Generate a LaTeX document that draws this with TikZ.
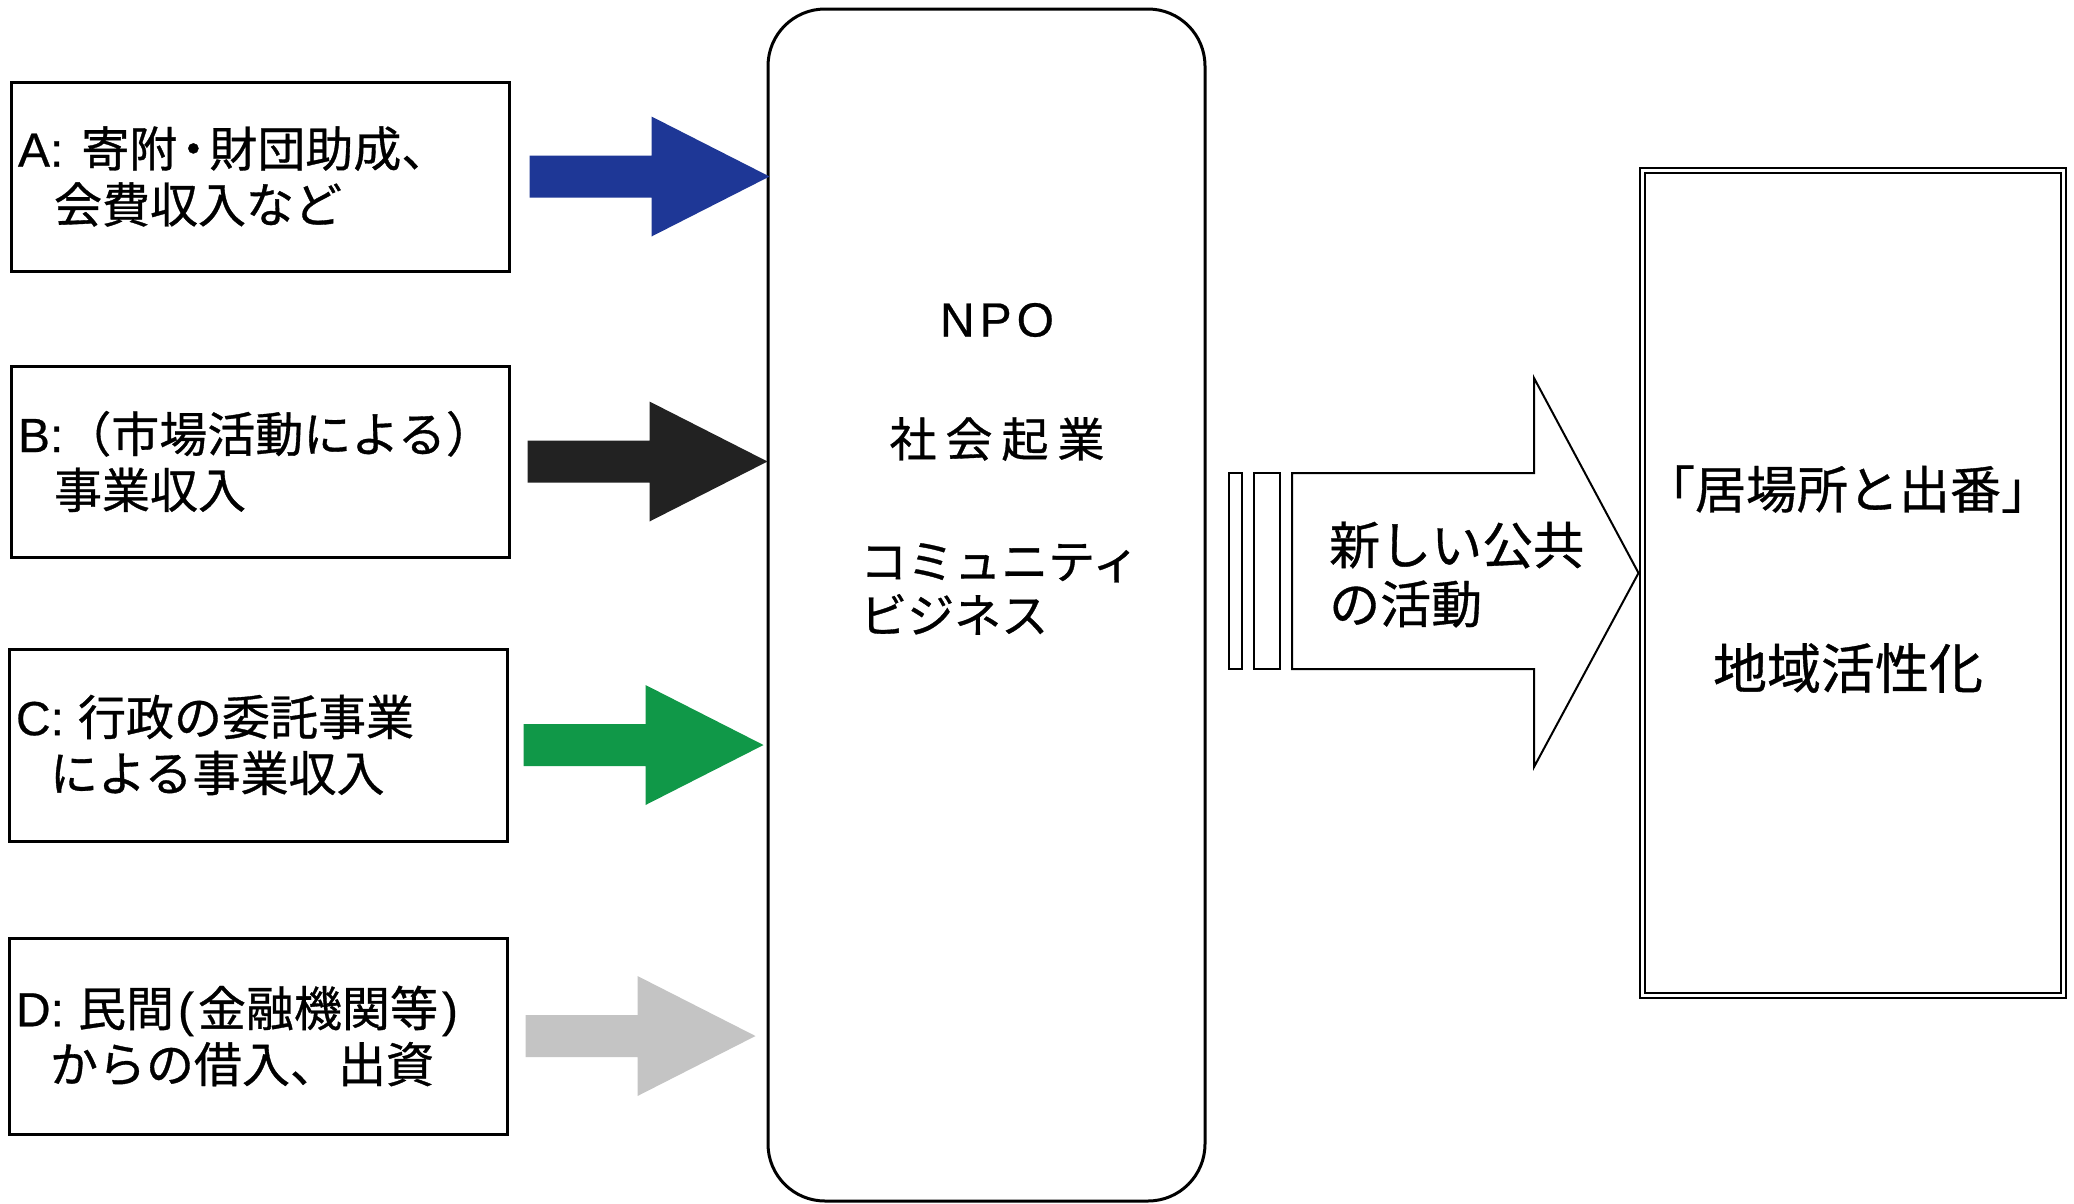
\documentclass[tikz,border=0pt]{standalone}
\usepackage{fontspec}
\setmainfont{Noto Sans CJK JP}[FakeBold=0.7]
\newfontfamily\lat{Liberation Sans}[FakeBold=0.5]
\usetikzlibrary{calc}
\definecolor{arrblue}{RGB}{30,55,150}
\definecolor{arrblack}{RGB}{34,34,34}
\definecolor{arrgreen}{RGB}{16,152,72}
\definecolor{arrgray}{RGB}{196,196,196}
\newcommand\blockarr[3]{%
  \fill[#1] let \p1=#2, \p2=#3 in
    (\x1,\y1+21pt) -- (\x2-118pt,\y1+21pt) -- (\x2-118pt,\y1+60pt) -- (\x2,\y1)
    -- (\x2-118pt,\y1-60pt) -- (\x2-118pt,\y1-21pt) -- (\x1,\y1-21pt) -- cycle;}
\begin{document}
\begin{tikzpicture}[x=1pt,y=-1pt,
  srcbox/.style={draw, line width=3pt, rectangle, text width=484pt, inner xsep=7pt,
    align=left, font=\fontsize{48}{56}\selectfont},
  midtext/.style={font=\fontsize{47}{54}\selectfont, inner sep=0pt},
  goaltext/.style={font=\fontsize{51}{58}\selectfont, inner sep=0pt}]
\useasboundingbox (0,0) rectangle (2074,1203);
\fill[white] (0,0) rectangle (2074,1203);

% source boxes
\node[srcbox, minimum height=189pt] (A) at (260,176.5)
  {{\lat A:}\hspace{18pt}寄附\hspace{-8pt}・\hspace{-8pt}財団助成、\\\hspace*{36pt}会費収入など};
\node[srcbox, minimum height=191pt] (B) at (260,461.5)
  {{\lat B:}（市場活動による）\\\hspace*{36pt}事業収入};
\node[srcbox, minimum height=192pt] (C) at (258,745)
  {{\lat C:}\hspace{14pt}行政の委託事業\\\hspace*{34pt}による事業収入};
\node[srcbox, minimum height=196pt] (D) at (258,1036)
  {{\lat D:}\hspace{14pt}民間\hspace{4pt}{\lat (}\hspace{4pt}金融機関等\hspace{4pt}{\lat )}\\\hspace*{34pt}からの借入、出資};

% NPO box
\node[draw, line width=3pt, rounded corners=57pt, minimum width=437pt,
  minimum height=1192pt, inner sep=0pt] (npo) at (986.5,605) {};
\node[midtext, font=\lat\fontsize{48}{54}\selectfont] (npol) at (997,320)
  {N\hspace{5pt}P\hspace{5pt}O};
\node[midtext] (sk) at (997,439)
  {社\hspace{9pt}会\hspace{9pt}起\hspace{9pt}業};
\node[midtext, anchor=west, align=left] (cb) at (860,589)
  {コミュニティ\\ビジネス};

% source arrows
\blockarr{arrblue}{($(A.east)+(19,0)$)}{($(A.east -| npo.west)+(3,0)$)}
\blockarr{arrblack}{($(B.east)+(17,0)$)}{($(B.east -| npo.west)+(1,0)$)}
\blockarr{arrgreen}{($(C.east)+(15,0)$)}{($(C.east -| npo.west)+(-3,0)$)}
\blockarr{arrgray}{($(D.east)+(17,0)$)}{($(D.east -| npo.west)+(-11,0)$)}

% goal box
\node[draw, line width=2pt, double, double distance=3.5pt, minimum width=421pt,
  minimum height=825pt, inner sep=0pt] (goal) at (1853,583) {};
\node[goaltext] (ib) at (1848,489) {「居場所と出番」};
\node[goaltext, font=\fontsize{54}{60}\selectfont] (ck) at (1848,668) {地域活性化};

% big arrow with bars
\coordinate (tip) at (goal.west |- 0,573);
\draw[line width=2pt] (1229,473) rectangle (1242,669);
\draw[line width=2pt] (1254,473) rectangle (1280,669);
\draw[line width=2pt, line join=miter] (1292,473) -- (1534,473) -- (1534,378) -- ($(tip)+(-3,0)$)
  -- (1534,767) -- (1534,669) -- (1292,669) -- cycle;
\node[anchor=west, align=left, inner sep=0pt, font=\fontsize{51}{59}\selectfont] (nk) at (1329,574.5)
  {新しい公共\\の活動};
\end{tikzpicture}
\end{document}
